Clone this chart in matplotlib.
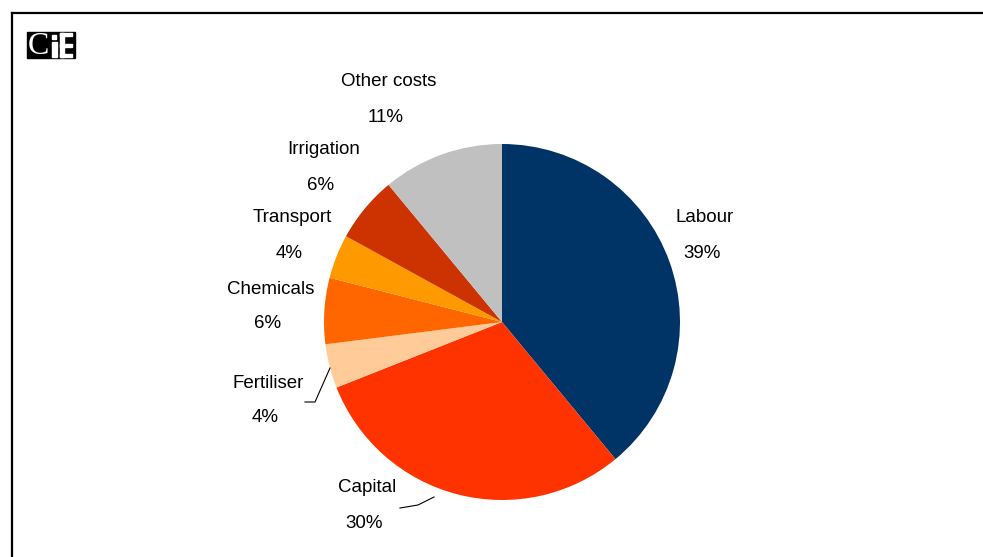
import matplotlib.pyplot as plt
from matplotlib.patches import Rectangle

# cost shares, clockwise from 12 o'clock
categories = ["Labour", "Capital", "Fertiliser", "Chemicals", "Transport", "Irrigation", "Other costs"]
shares = [39, 30, 4, 6, 4, 6, 11]
colors = ["#003366", "#FF3300", "#FFCC99", "#FF6600", "#FF9900", "#CC3300", "#C0C0C0"]

W, H = 983, 557
FONT = ["Liberation Sans Narrow", "Liberation Sans", "DejaVu Sans"]


def py(y):
    # pixel row (top-down) -> data y
    return H - y


def main():
    fig = plt.figure(figsize=(W / 100, H / 100), dpi=100)
    ax = fig.add_axes([0, 0, 1, 1])

    ax.pie(shares, colors=colors, startangle=90, counterclock=False,
           center=(502, py(322)), radius=178, frame=True,
           wedgeprops=dict(linewidth=0))
    ax.set_xlim(0, W)
    ax.set_ylim(0, H)
    ax.axis("off")

    # label anchors (name line centre)
    label_pos = {
        "Labour": (705, 218),
        "Capital": (367, 488),
        "Fertiliser": (268, 383),
        "Chemicals": (271, 289),
        "Transport": (292, 218),
        "Irrigation": (324, 150),
        "Other costs": (389, 82),
    }
    for name, val in zip(categories, shares):
        x, y = label_pos[name]
        ax.text(x, py(y), name, ha="center", va="center", fontsize=13.5,
                family=FONT, color="black")
        ax.text(x - 3, py(y + 35), f"{val}%", ha="center", va="center",
                fontsize=13.5, family=FONT, color="black")

    # leader lines for the two labels sitting away from their slices
    ax.plot([305, 315, 330], [py(402), py(402), py(368)], color="black", lw=0.8)
    ax.plot([400, 418, 434], [py(508), py(505), py(497)], color="black", lw=0.8)

    # frame
    ax.plot([12, W + 5], [py(13), py(13)], color="black", lw=1.6)
    ax.plot([12, 12], [py(13), -5], color="black", lw=1.6)

    # logo block
    ax.add_patch(Rectangle((27, py(58)), 48, 26, color="black"))
    ax.text(38, py(46), "C", ha="center", va="center", fontsize=23,
            family=["Liberation Serif", "DejaVu Serif"], color="white")
    ax.add_patch(Rectangle((51.5, py(57)), 5, 15, color="white"))
    ax.add_patch(Rectangle((52, py(39)), 4, 4, color="white"))
    ax.add_patch(Rectangle((60, py(57)), 3.5, 24, color="white"))
    for yy in (33, 43.5, 54):
        ax.add_patch(Rectangle((60, py(yy + 3)), 12, 3, color="white"))

    fig.savefig("out.png", dpi=100)


if __name__ == "__main__":
    main()
